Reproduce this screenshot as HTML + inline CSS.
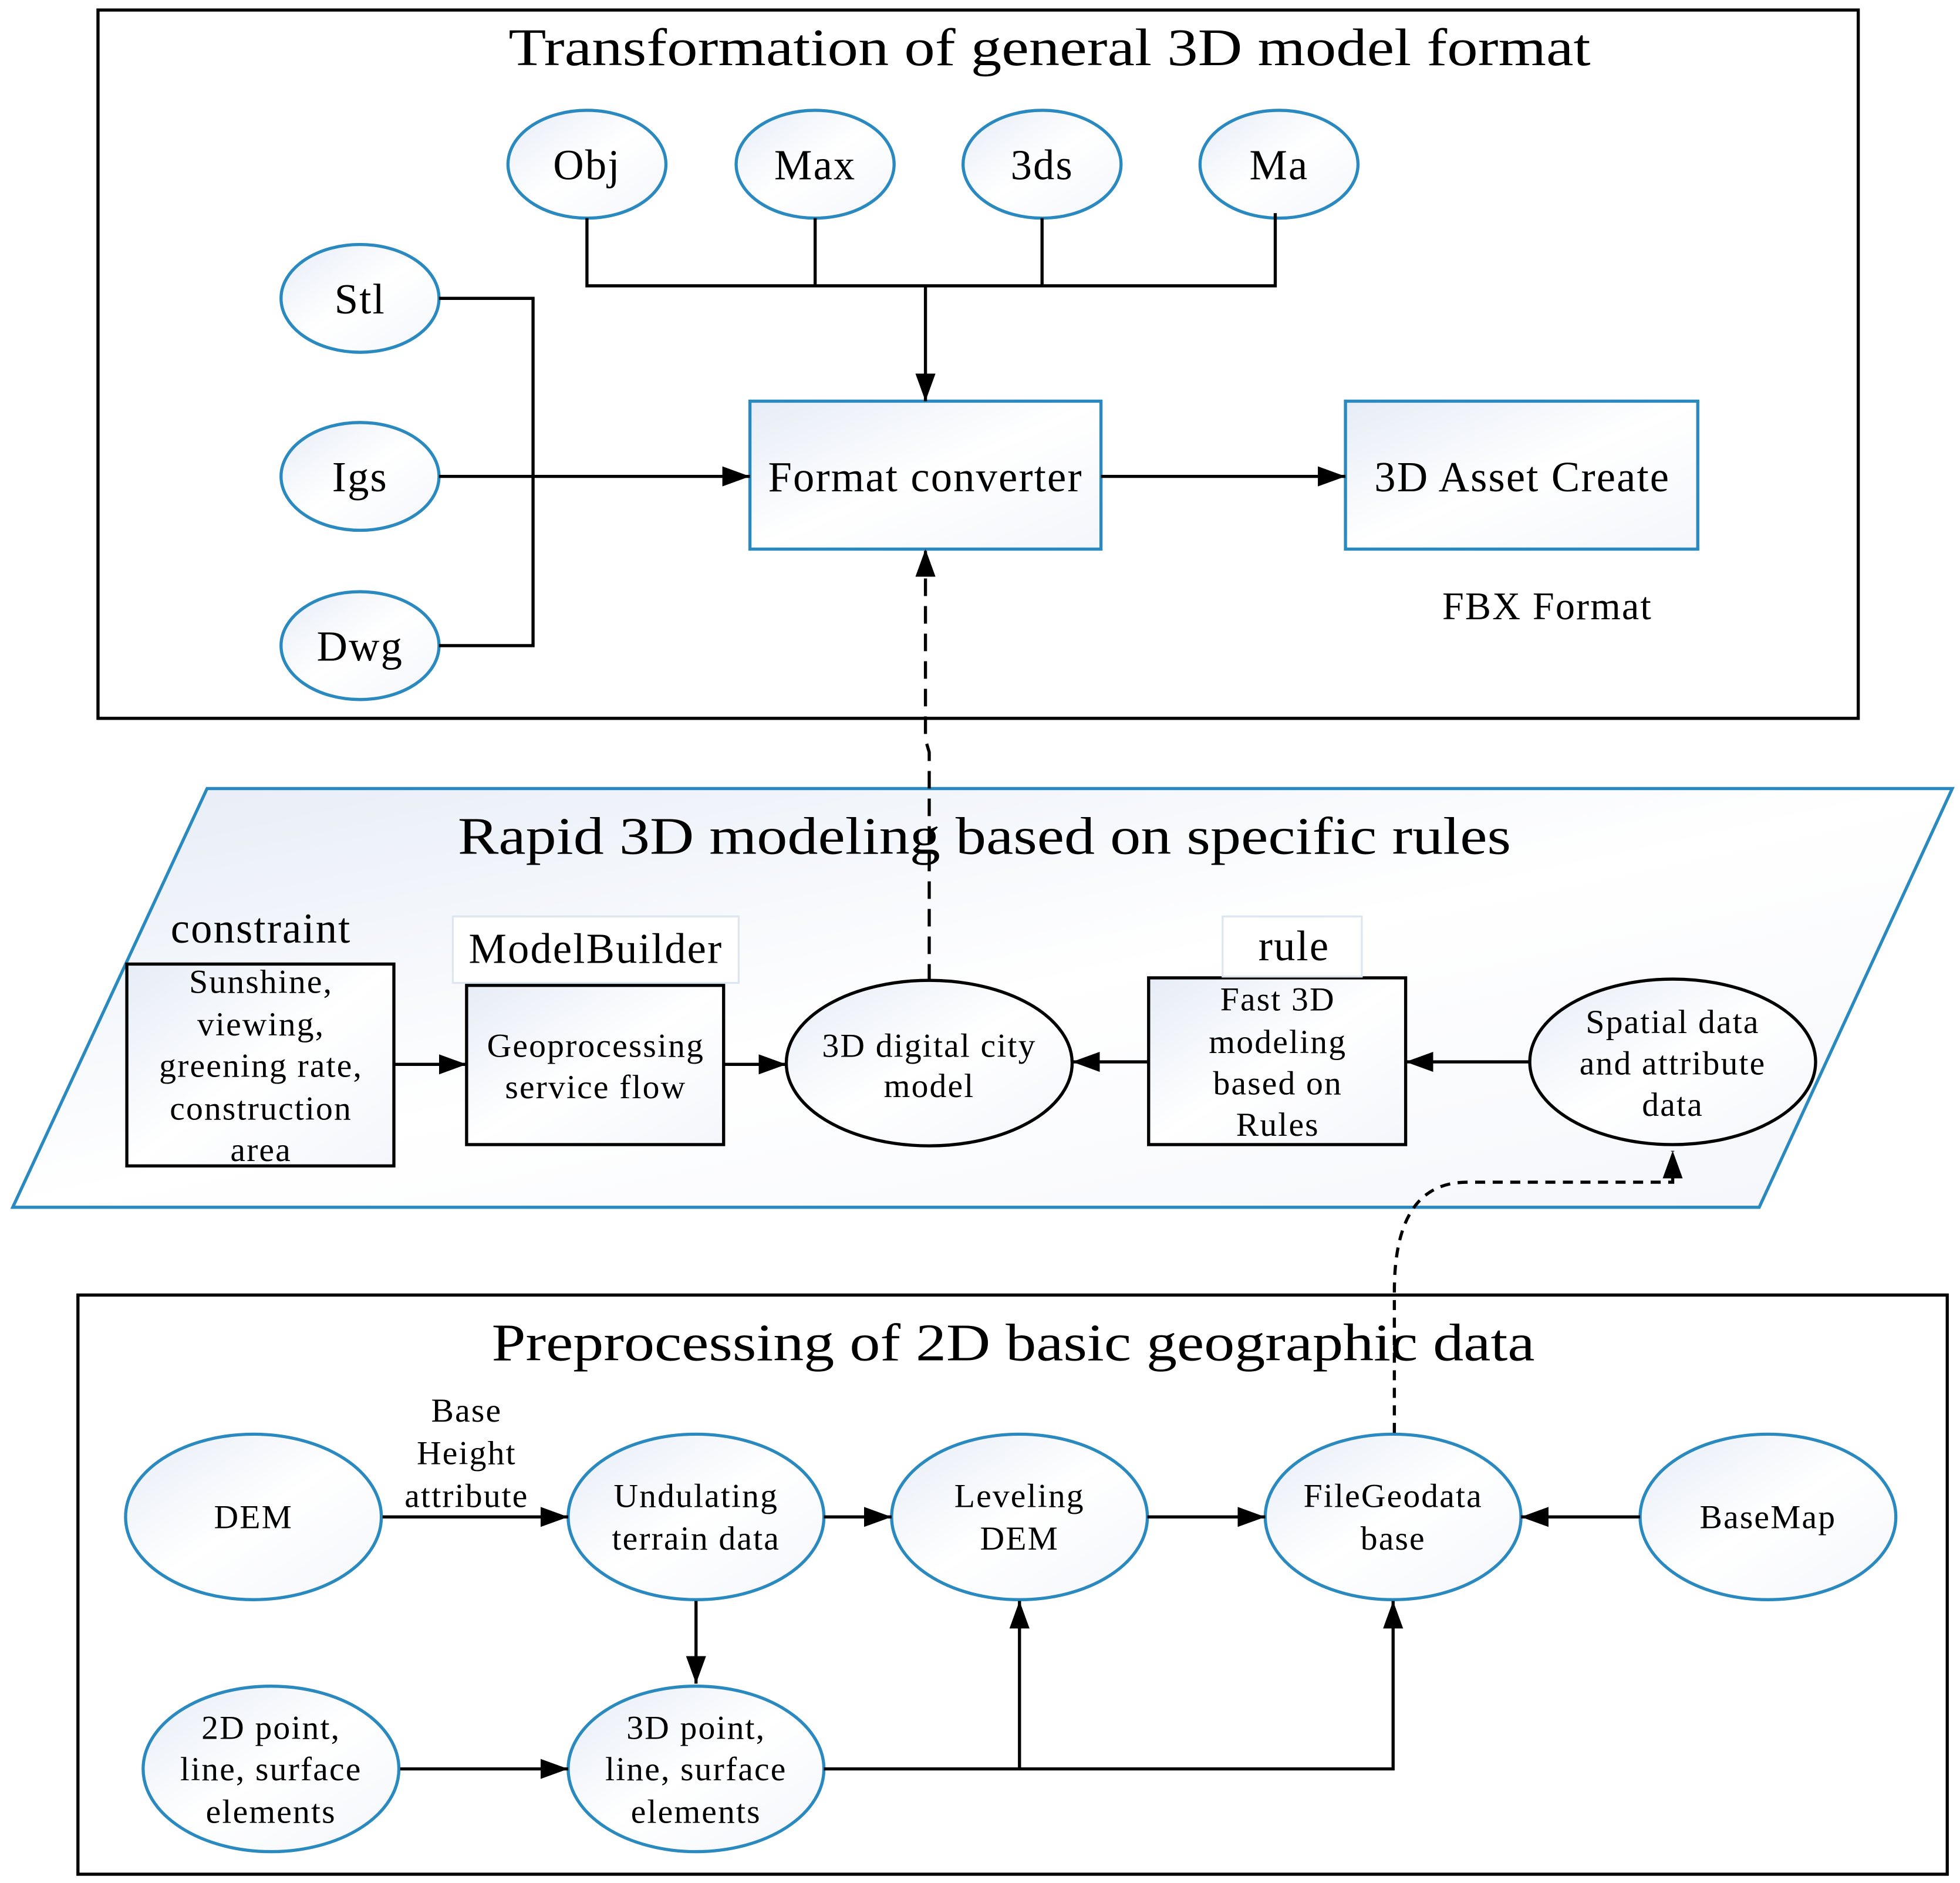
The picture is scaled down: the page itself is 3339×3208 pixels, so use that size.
<!DOCTYPE html>
<html><head><meta charset="utf-8"><style>html,body{margin:0;padding:0;background:#fff}svg{display:block}</style></head><body>
<svg xmlns="http://www.w3.org/2000/svg" width="3339" height="3208" viewBox="0 0 1563 1502" font-family="Liberation Serif, serif" text-anchor="middle">
<defs>
<linearGradient id="g" x1="0" y1="0" x2="1" y2="1"><stop offset="0" stop-color="#e6ecf6"/><stop offset="0.5" stop-color="#ffffff"/><stop offset="1" stop-color="#f4f6fb"/></linearGradient>
<marker id="b" markerWidth="22" markerHeight="16" refX="22" refY="8" orient="auto" markerUnits="userSpaceOnUse"><path d="M0,0 L22,8 L0,16 z" fill="#000"/></marker>
</defs>
<g fill="none" stroke="#000" stroke-width="2.5">
<rect x="78" y="8" width="1404" height="565"/>
<rect x="62" y="1033" width="1491" height="462"/>
</g>
<polygon points="165,629 1557,629 1403,963 10,963" fill="url(#g)" stroke="#2a8ac0" stroke-width="2.5"/>
<g font-size="42" fill="#000" lengthAdjust="spacingAndGlyphs">
<text x="837" y="52" textLength="863" lengthAdjust="spacingAndGlyphs">Transformation of general 3D model format</text>
<text x="785" y="681" textLength="840" lengthAdjust="spacingAndGlyphs">Rapid 3D modeling based on specific rules</text>
<text x="808" y="1085" textLength="832" lengthAdjust="spacingAndGlyphs">Preprocessing of 2D basic geographic data</text>
</g>
<g fill="url(#g)" stroke="#2a8ac0" stroke-width="2.5">
<ellipse cx="468" cy="131" rx="63" ry="43"/><ellipse cx="650" cy="131" rx="63" ry="43"/>
<ellipse cx="831" cy="131" rx="63" ry="43"/><ellipse cx="1020" cy="131" rx="63" ry="43"/>
<ellipse cx="287" cy="238" rx="63" ry="43"/><ellipse cx="287" cy="380" rx="63" ry="43"/><ellipse cx="287" cy="515" rx="63" ry="43"/>
<rect x="598" y="320" width="280" height="118"/><rect x="1073" y="320" width="281" height="118"/>
<ellipse cx="202" cy="1210" rx="102" ry="66"/><ellipse cx="555" cy="1210" rx="102" ry="66"/>
<ellipse cx="813" cy="1210" rx="102" ry="66"/><ellipse cx="1111" cy="1210" rx="102" ry="66"/>
<ellipse cx="1410" cy="1210" rx="102" ry="66"/><ellipse cx="216" cy="1411" rx="102" ry="66"/>
<ellipse cx="555" cy="1411" rx="102" ry="66"/>
</g>
<g fill="url(#g)" stroke="#000" stroke-width="2.5">
<rect x="101" y="769" width="213" height="161"/><rect x="372" y="786" width="205" height="127"/>
<ellipse cx="741" cy="848" rx="114" ry="66"/><rect x="916" y="780" width="205" height="133"/>
<ellipse cx="1334" cy="847" rx="114" ry="66"/>
</g>
<g fill="#fff" stroke="#dde6f0" stroke-width="1.5"><rect x="361" y="731" width="228" height="53"/><rect x="975" y="731" width="111" height="48"/></g>
<g fill="none" stroke="#000" stroke-width="2.5">
<path d="M468,174V228H1017V170M650,174V228M831,174V228"/>
<path d="M738,228V320" marker-end="url(#b)"/>
<path d="M350,238H425V515H350"/>
<path d="M350,380H598" marker-end="url(#b)"/>
<path d="M878,380H1073" marker-end="url(#b)"/>
<path d="M741,783V600L738,590V438" stroke-dasharray="14,8" marker-end="url(#b)"/>
<path d="M314,849H372" marker-end="url(#b)"/>
<path d="M577,849H627" marker-end="url(#b)"/>
<path d="M916,847H855" marker-end="url(#b)"/>
<path d="M1220,847H1121" marker-end="url(#b)"/>
<path d="M1112,1143V1030Q1112,943 1170,943H1334V918" stroke-dasharray="8,6" marker-end="url(#b)"/>
<path d="M305,1210H453" marker-end="url(#b)"/>
<path d="M657,1210H711" marker-end="url(#b)"/>
<path d="M915,1210H1009" marker-end="url(#b)"/>
<path d="M1308,1210H1213" marker-end="url(#b)"/>
<path d="M555,1277V1343" marker-end="url(#b)"/>
<path d="M319,1411H453" marker-end="url(#b)"/>
<path d="M657,1411H1111V1277" marker-end="url(#b)"/>
<path d="M813,1411V1277" marker-end="url(#b)"/>
</g>
<g font-size="34" fill="#000" letter-spacing="1">
<text x="468" y="143">Obj</text><text x="650" y="143">Max</text><text x="831" y="143">3ds</text><text x="1020" y="143">Ma</text>
<text x="287" y="250">Stl</text><text x="287" y="392">Igs</text><text x="287" y="527">Dwg</text>
<text x="738" y="392">Format converter</text><text x="1214" y="392">3D Asset Create</text>
<text x="1234" y="494" font-size="31">FBX Format</text>
<text x="208" y="752">constraint</text><text x="475" y="768">ModelBuilder</text><text x="1032" y="766">rule</text>
</g>
<g font-size="27" fill="#000" letter-spacing="1">
<text x="208" y="792">Sunshine,</text><text x="208" y="826">viewing,</text><text x="208" y="859">greening rate,</text><text x="208" y="893">construction</text><text x="208" y="926">area</text>
<text x="475" y="843">Geoprocessing</text><text x="475" y="876">service flow</text>
<text x="741" y="843">3D digital city</text><text x="741" y="875">model</text>
<text x="1019" y="806">Fast 3D</text><text x="1019" y="840">modeling</text><text x="1019" y="873">based on</text><text x="1019" y="906">Rules</text>
<text x="1334" y="824">Spatial data</text><text x="1334" y="857">and attribute</text><text x="1334" y="890">data</text>
<text x="372" y="1134">Base</text><text x="372" y="1168">Height</text><text x="372" y="1202">attribute</text>
<text x="202" y="1219">DEM</text>
<text x="555" y="1202">Undulating</text><text x="555" y="1236">terrain data</text>
<text x="813" y="1202">Leveling</text><text x="813" y="1236">DEM</text>
<text x="1111" y="1202">FileGeodata</text><text x="1111" y="1236">base</text>
<text x="1410" y="1219">BaseMap</text>
<text x="216" y="1387">2D point,</text><text x="216" y="1420">line, surface</text><text x="216" y="1454">elements</text>
<text x="555" y="1387">3D point,</text><text x="555" y="1420">line, surface</text><text x="555" y="1454">elements</text>
</g>
</svg>
</body></html>
